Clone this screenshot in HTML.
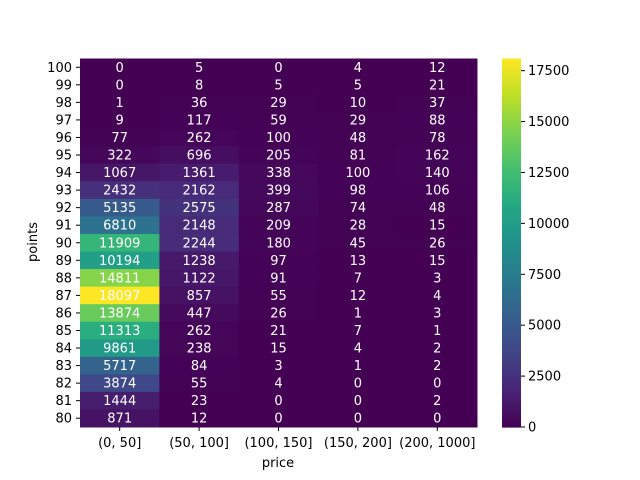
<!DOCTYPE html><html><head><style>body{margin:0;background:#fff}svg{display:block;font-family:"DejaVu Sans","Liberation Sans",sans-serif}</style></head><body>
<svg id="s" width="640" height="480" xmlns="http://www.w3.org/2000/svg"></svg>
<script>
const data={100:[0,5,0,4,12],99:[0,8,5,5,21],98:[1,36,29,10,37],97:[9,117,59,29,88],96:[77,262,100,48,78],95:[322,696,205,81,162],94:[1067,1361,338,100,140],93:[2432,2162,399,98,106],92:[5135,2575,287,74,48],91:[6810,2148,209,28,15],90:[11909,2244,180,45,26],89:[10194,1238,97,13,15],88:[14811,1122,91,7,3],87:[18097,857,55,12,4],86:[13874,447,26,1,3],85:[11313,262,21,7,1],84:[9861,238,15,4,2],83:[5717,84,3,1,2],82:[3874,55,4,0,0],81:[1444,23,0,0,2],80:[871,12,0,0,0]};
const stops=["#440154","#482475","#414487","#355f8d","#2a788e","#21918c","#22a884","#44bf70","#7ad151","#bddf26","#fde725"].map(h=>[1,3,5].map(i=>parseInt(h.substr(i,2),16)));
function vir(t){t=Math.max(0,Math.min(1,t))*10;let i=Math.min(9,Math.floor(t)),f=t-i;const a=stops[i],b=stops[i+1];return`rgb(${a.map((v,k)=>Math.round(v+(b[k]-v)*f)).join(",")})`;}
const MAX=18097,L=80,T=58.5,W=397,H=368.5,cw=W/5,ch=H/21;
let s="";
for(let r=0;r<21;r++){const p=100-r;data[p].forEach((v,c)=>{const x=L+c*cw,y=T+r*ch;s+=`<rect x="${x}" y="${y}" width="${cw+0.5}" height="${ch+0.5}" fill="${vir(v/MAX)}"/>`;s+=`<text x="${x+cw/2}" y="${y+ch/2+4.5}" font-size="13" fill="#fff" text-anchor="middle">${v}</text>`;});
const y=T+r*ch+ch/2;s+=`<line x1="76" x2="80" y1="${y}" y2="${y}" stroke="#000"/><text x="72" y="${y+4.5}" font-size="13" text-anchor="end">${p}</text>`;}
["(0, 50]","(50, 100]","(100, 150]","(150, 200]","(200, 1000]"].forEach((l,c)=>{const x=L+c*cw+cw/2;s+=`<line x1="${x}" x2="${x}" y1="${T+H}" y2="${T+H+4}" stroke="#000"/><text x="${x}" y="447" font-size="13" text-anchor="middle">${l}</text>`;});
s+=`<text x="278" y="467" font-size="13" text-anchor="middle">price</text><text transform="translate(37,242) rotate(-90)" font-size="13" text-anchor="middle">points</text>`;
const cx=502,cwid=19;for(let i=0;i<200;i++){const y0=T+H-(i+1)*H/200;s+=`<rect x="${cx}" y="${y0}" width="${cwid}" height="${H/200+0.6}" fill="${vir((i+0.5)/200)}"/>`;}
for(let v=0;v<=17500;v+=2500){const y=T+H-v/MAX*H;s+=`<line x1="${cx+cwid}" x2="${cx+cwid+4}" y1="${y}" y2="${y}" stroke="#000"/><text x="${cx+cwid+7}" y="${y+4.5}" font-size="13">${v}</text>`;}
document.getElementById("s").innerHTML=s;
</script></body></html>
